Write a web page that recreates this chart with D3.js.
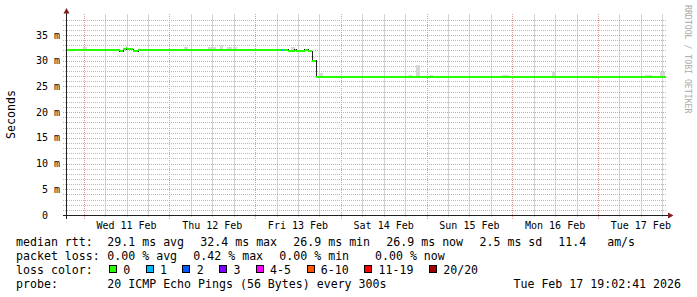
<!DOCTYPE html>
<html>
<head>
<meta charset="utf-8">
<script src="https://cdn.jsdelivr.net/npm/d3@7"></script>
<style>
  body { margin: 0; background: #fff; }
  text { font-family: "DejaVu Sans Mono", monospace; fill: #000; white-space: pre; }
</style>
</head>
<body>
<svg id="chart" width="697" height="297"></svg>
<script>
"use strict"

// time range of the graph (last 7 days)
const startTime = new Date(2026, 1, 10, 19, 2, 41);
const endTime = new Date(2026, 1, 17, 19, 2, 41);
const dayLabels = ["Wed 11 Feb", "Thu 12 Feb", "Fri 13 Feb", "Sat 14 Feb", "Sun 15 Feb", "Mon 16 Feb", "Tue 17 Feb"];

const yTicks = [0, 5, 10, 15, 20, 25, 30, 35];
const yTickLabels = ["0", "5 m", "10 m", "15 m", "20 m", "25 m", "30 m", "35 m"];

// median rtt (ms), as steps: hours after start, value, lost pings
const medianHours  = [0,    15.1, 16.0, 16.8, 17.1, 18.8, 20.2, 58.0, 60.2, 61.0, 62.2, 64.1, 64.4, 66.9, 67.8, 69.0, 70.0];
const medianValues = [32.1, 31.9, 32.2, 32.4, 32.2, 31.9, 32.1, 32.1, 32.1, 32.1, 31.9, 32.1, 31.9, 32.1, 31.9, 30.0, 26.9];
const medianLoss   = [0,    0,    0,    0,    0,    0,    0,    0,    1,    0,    0,    0,    0,    0,    0,    0,    0];

// smoke (spread of the pings), hours after start and ms
const smokeStart = [4.8,  33.0, 39.8, 43.1, 45.1, 46.8, 63.0, 70.8, 96.0, 98.0, 101.9, 122.1, 136.1, 162.1, 166.3];
const smokeEnd   = [5.9,  34.2, 42.0, 44.0, 46.5, 47.9, 64.1, 72.0, 96.9, 99.1, 102.8, 124.0, 137.2, 164.1, 167.7];
const smokeLow   = [32.1, 32.1, 32.1, 32.1, 32.1, 32.1, 32.1, 26.9, 26.9, 26.9, 26.9,  26.9,  26.9,  26.9,  26.9];
const smokeHigh  = [32.7, 32.6, 32.6, 33.0, 32.6, 32.6, 32.7, 27.6, 27.2, 29.2, 27.2,  27.2,  27.8,  27.2,  27.8];

const lossLabels = ["0", "1", "2", "3", "4-5", "6-10", "11-19", "20/20"];
const lossColors = ["#26ff00", "#00b8ff", "#0059ff", "#7e00ff", "#ff00ff", "#ff5500", "#ff0000", "#a00000"];

const rttStats  = ["29.1 ms avg", "32.4 ms max", "26.9 ms min", "26.9 ms now", "2.5 ms sd", "11.4   am/s"];
const lossStats = ["0.00 % avg", "0.42 % max", "0.00 % min", "0.00 % now"];
const probeText = "20 ICMP Echo Pings (56 Bytes) every 300s";
const stampText = "Tue Feb 17 19:02:41 2026";

function drawGraph(){
    let svg = d3.select("#chart");
    const H = 3600 * 1000;

    let x = d3.scaleTime()
        .domain([startTime, endTime])
        .range([66, 666]);

    let y = d3.scaleLinear()
        .domain([0, 39.1])
        .range([215, 14]);

    let crisp = v => Math.round(v) + 0.5;

    // vertical grid, 6 h minor, midnight major
    let firstDay = d3.timeDay.floor(startTime);
    let hourTicks = d3.range(+firstDay, +endTime, 6 * H).filter(t => t > +startTime);
    svg.append("g")
        .selectAll("rect")
        .data(hourTicks.filter(t => new Date(t).getHours() != 0))
        .join("rect")
        .attr("x", t => Math.round(x(new Date(t))))
        .attr("y", 14)
        .attr("width", 1)
        .attr("height", 203)
        .style("fill", "#d2d2d2");

    let grid = svg.append("g");

    // horizontal grid, 1 ms minor, 5 ms major
    for(let v = 1; v < 39; v++){
        let major = (v % 5 == 0);
        grid.append("line")
            .attr("x1", 63).attr("x2", 666)
            .attr("y1", crisp(y(v))).attr("y2", crisp(y(v)))
            .style("stroke", major ? "#e29a9a" : "#b9b9b9")
            .style("stroke-width", 1)
            .style("stroke-dasharray", "1,1");
    }

    hourTicks.filter(t => new Date(t).getHours() == 0).forEach(function(t){
        let px = crisp(x(new Date(t)));
        grid.append("line")
            .attr("x1", px).attr("x2", px)
            .attr("y1", 14).attr("y2", 219)
            .style("stroke", "#e29a9a")
            .style("stroke-width", 1)
            .style("stroke-dasharray", "1,1");
    })

    // smoke
    let smoke = svg.append("g").attr("shape-rendering", "crispEdges");
    for(let i = 0; i < smokeStart.length; i++){
        let x0 = x(new Date(+startTime + smokeStart[i] * H));
        let x1 = x(new Date(+startTime + smokeEnd[i] * H));
        smoke.append("rect")
            .attr("x", Math.round(x0))
            .attr("width", Math.max(1, Math.round(x1) - Math.round(x0)))
            .attr("y", Math.round(y(smokeHigh[i])))
            .attr("height", Math.round(y(smokeLow[i])) - Math.round(y(smokeHigh[i])))
            .style("fill", "#d6d6d6");
    }

    // dark median line underneath
    let pts = medianHours.map((h, i) => [x(new Date(+startTime + h * H)), y(medianValues[i])]);
    pts.push([x(endTime), y(medianValues[medianValues.length - 1])]);
    svg.append("path")
        .attr("d", d3.line().curve(d3.curveStepAfter)(pts))
        .attr("shape-rendering", "crispEdges")
        .style("fill", "none")
        .style("stroke", "#202020")
        .style("stroke-width", 1);

    // coloured median segments by loss
    for(let i = 0; i < medianHours.length; i++){
        let x0 = pts[i][0];
        let x1 = pts[i + 1][0];
        svg.append("line")
            .attr("x1", x0).attr("x2", x1)
            .attr("y1", y(medianValues[i])).attr("y2", y(medianValues[i]))
            .attr("shape-rendering", "crispEdges")
            .style("stroke", lossColors[medianLoss[i]])
            .style("stroke-width", 2);
    }

    // axes
    let axis = svg.append("g").attr("shape-rendering", "crispEdges");
    axis.append("line")
        .attr("x1", 63).attr("x2", 669)
        .attr("y1", 215.5).attr("y2", 215.5)
        .style("stroke", "#1f1f1f");
    axis.append("line")
        .attr("x1", 66.5).attr("x2", 66.5)
        .attr("y1", 219).attr("y2", 12)
        .style("stroke", "#1f1f1f");
    svg.append("path")
        .attr("d", "M668,212.5 L673.5,215.5 L668,218.5 Z")
        .style("fill", "#801f1f");
    svg.append("path")
        .attr("d", "M63.5,13.5 L66.5,8 L69.5,13.5 Z")
        .style("fill", "#801f1f");

    // y labels
    for(let i = 0; i < yTicks.length; i++){
        svg.append("text")
            .attr("x", yTicks[i] == 0 ? 48 : 60)
            .attr("y", y(yTicks[i]) + 3.6)
            .attr("text-anchor", "end")
            .style("font-size", "10px")
            .text(yTickLabels[i]);
    }

    // x labels at noon
    let noons = d3.timeDay.range(d3.timeDay.ceil(startTime), endTime).map(d => d3.timeHour.offset(d, 12));
    noons.forEach(function(d, i){
        svg.append("text")
            .attr("x", x(d))
            .attr("y", 228.5)
            .attr("text-anchor", "middle")
            .style("font-size", "10px")
            .text(dayLabels[i]);
    })

    svg.append("text")
        .attr("transform", "translate(15,114.5) rotate(-90)")
        .attr("text-anchor", "middle")
        .style("font-size", "11.6px")
        .text("Seconds");

    svg.append("text")
        .attr("transform", "translate(684.5,5) rotate(90)")
        .style("font-size", "8.2px")
        .style("fill", "#aaaaaa")
        .text("RRDTOOL / TOBI OETIKER");
}

function drawLegend(){
    let svg = d3.select("#chart");
    let lg = svg.append("g").style("font-size", "11.6px");
    let rows = [245.5, 259.5, 273.5, 287.5];

    let rttX = [107.3, 200.3, 293.3, 386.3, 479.5, 558.3];
    lg.append("text").attr("x", 16).attr("y", rows[0]).text("median rtt:");
    rttStats.forEach(function(s, i){
        lg.append("text").attr("x", rttX[i]).attr("y", rows[0]).text(s);
    })

    let lossX = [107.3, 193.3, 279.3, 375];
    lg.append("text").attr("x", 16).attr("y", rows[1]).text("packet loss:");
    lossStats.forEach(function(s, i){
        lg.append("text").attr("x", lossX[i]).attr("y", rows[1]).text(s);
    })

    lg.append("text").attr("x", 16).attr("y", rows[2]).text("loss color:");
    let bx = 109;
    for(let i = 0; i < lossLabels.length; i++){
        lg.append("rect")
            .attr("x", bx + 0.5).attr("y", 265.5)
            .attr("width", 7).attr("height", 7)
            .attr("shape-rendering", "crispEdges")
            .style("fill", lossColors[i])
            .style("stroke", "#000");
        lg.append("text").attr("x", bx + 14.3).attr("y", rows[2]).text(lossLabels[i]);
        bx += 14.3 + 7 * lossLabels[i].length + 15.4;
    }

    lg.append("text").attr("x", 16).attr("y", rows[3]).text("probe:");
    lg.append("text").attr("x", 107.3).attr("y", rows[3]).text(probeText);
    lg.append("text").attr("x", 681).attr("y", rows[3]).attr("text-anchor", "end").text(stampText);
}

drawGraph();
drawLegend();
</script>
</body>
</html>
